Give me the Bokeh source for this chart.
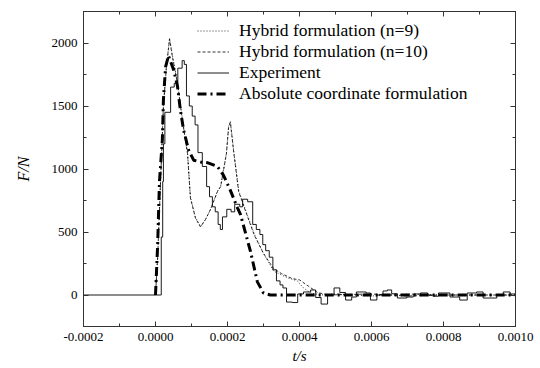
from bokeh.plotting import figure
from bokeh.models import (LinearAxis, SingleIntervalTicker, Range1d,
                          CustomJSTickFormatter)
from bokeh.embed import file_html
from bokeh.resources import INLINE
import numpy as np

# time in microseconds, force in N
exp_t = [-200, 14, 16, 20, 22, 26, 42, 52, 62, 74, 80, 86, 94, 102, 110, 118, 130, 142,
         150, 158, 166, 174, 180, 186, 198, 210, 220, 234, 242, 256, 270, 280, 290, 298,
         306, 316, 326, 336, 346, 354, 364, 380, 395, 411, 431, 445, 460, 478, 496, 512,
         528, 545, 558, 585, 597, 615, 632, 644, 656, 672, 698, 716, 736, 756, 772, 786,
         818, 845, 866, 892, 910, 948, 966, 985, 1000]
exp_f = [0, 0, 460, 900, 1200, 1450, 1650, 1680, 1800, 1860, 1830, 1580, 1500, 1420, 1350,
         1130, 1020, 860, 780, 700, 660, 560, 520, 620, 680, 660, 720, 700, 760, 740, 560,
         520, 480, 400, 352, 300, 200, 112, 80, 56, -56, -60, 8, 24, 40, -20, -72, 0, 56,
         20, -40, -16, 24, 16, -40, 0, 32, 40, 10, -24, -16, 8, 16, 0, -10, 16, -16, -40,
         16, 24, -24, 0, 24, 8, 0]

abs_t = [0, 6, 11, 19, 22, 28, 36, 50, 61, 69, 78, 92, 106, 125, 144, 172, 189, 208, 228,
         236, 264, 283, 300, 319, 1000]
abs_f = [0, 400, 900, 1230, 1550, 1810, 1900, 1790, 1660, 1470, 1310, 1150, 1070, 1055,
         1050, 1020, 950, 830, 690, 640, 344, 104, 16, 0, 0]

h9_t = [0, 6, 14, 22, 30, 39, 47, 61, 75, 89, 97, 111, 125, 139, 153, 172, 181, 197, 203,
        208, 217, 231, 247, 275, 300, 328, 367, 394, 411, 431, 460, 500, 600, 700, 800, 1000]
h9_f = [0, 300, 900, 1500, 1800, 2040, 1900, 1690, 1390, 1128, 776, 616, 544, 600, 680,
        824, 864, 1128, 1336, 1380, 1150, 830, 700, 480, 330, 190, 136, 112, 56, 16, 0, 8,
        -8, 8, 0, 0]

h10_t = [0, 6, 14, 22, 30, 39, 47, 61, 75, 89, 97, 111, 125, 139, 153, 172, 181, 197, 203,
         208, 217, 231, 247, 275, 300, 328, 350, 380, 400, 420, 450, 480, 600, 700, 800, 1000]
h10_f = [0, 300, 900, 1500, 1800, 2030, 1890, 1680, 1380, 1120, 770, 610, 540, 600, 680,
         820, 860, 1120, 1330, 1370, 1140, 820, 690, 470, 330, 210, 170, 130, 120, 80, 20,
         0, 8, -8, 0, 0]

FONT = "Liberation Serif"

p = figure(width=540, height=368, output_backend="svg", toolbar_location=None,
           x_range=Range1d(-200, 1000), y_range=Range1d(-250, 2250),
           min_border_left=83, min_border_right=25, min_border_top=11,
           min_border_bottom=42)
p.xgrid.visible = False
p.ygrid.visible = False
p.outline_line_color = "#333333"
p.background_fill_color = "white"
p.border_fill_color = "white"

fmt = CustomJSTickFormatter(code="return (tick*1e-6).toFixed(4);")
blank = CustomJSTickFormatter(code="return '';")

def style_axis(ax):
    ax.axis_line_color = "#333333"
    ax.major_tick_line_color = "#333333"
    ax.minor_tick_line_color = "#333333"
    ax.major_tick_in = 5
    ax.major_tick_out = 0
    ax.minor_tick_in = 3
    ax.minor_tick_out = 0
    ax.major_label_text_font = FONT
    ax.major_label_text_font_size = "13px"
    ax.major_label_text_color = "black"
    ax.axis_label_text_font = FONT
    ax.axis_label_text_font_style = "italic"
    ax.axis_label_text_font_size = "15px"
    ax.axis_label_text_color = "black"

p.xaxis.ticker = SingleIntervalTicker(interval=200, num_minor_ticks=2)
p.xaxis.formatter = fmt
p.xaxis.axis_label = "t/s"
p.yaxis.ticker = SingleIntervalTicker(interval=500, num_minor_ticks=2)
p.yaxis.axis_label = "F/N"
style_axis(p.xaxis[0])
style_axis(p.yaxis[0])
p.yaxis.axis_label_text_font_size = "16px"
p.xaxis.major_label_standoff = 6
p.xaxis.axis_label_standoff = 4
p.yaxis.major_label_standoff = 6
p.yaxis.axis_label_standoff = 17

top = LinearAxis(ticker=SingleIntervalTicker(interval=200, num_minor_ticks=2),
                 formatter=blank)
right = LinearAxis(ticker=SingleIntervalTicker(interval=500, num_minor_ticks=2),
                   formatter=blank)
for ax in (top, right):
    style_axis(ax)
    ax.major_label_standoff = 0
p.add_layout(top, "above")
p.add_layout(right, "right")

p.line(np.array(h9_t), h9_f, line_color="black", line_width=0.8, line_dash="1 2",
       legend_label="Hybrid formulation (n=9)")
p.line(np.array(h10_t), h10_f, line_color="black", line_width=0.8, line_dash="3 2",
       legend_label="Hybrid formulation (n=10)")
p.step(np.array(exp_t), exp_f, mode="after", line_color="black", line_width=0.9,
       legend_label="Experiment")
p.line(np.array(abs_t), abs_f, line_color="black", line_width=3, line_dash="9 4 2 4",
       legend_label="Absolute coordinate formulation")

lg = p.legend[0]
lg.location = (114, 222)
lg.border_line_color = None
lg.background_fill_alpha = 0
lg.label_text_font = FONT
lg.label_text_font_size = "17.5px"
lg.label_text_color = "black"
lg.glyph_width = 32
lg.glyph_height = 19
lg.label_height = 19
lg.spacing = 0
lg.padding = 0
lg.margin = 0
lg.label_standoff = 10

open("out.html", "w").write(file_html(p, INLINE))
